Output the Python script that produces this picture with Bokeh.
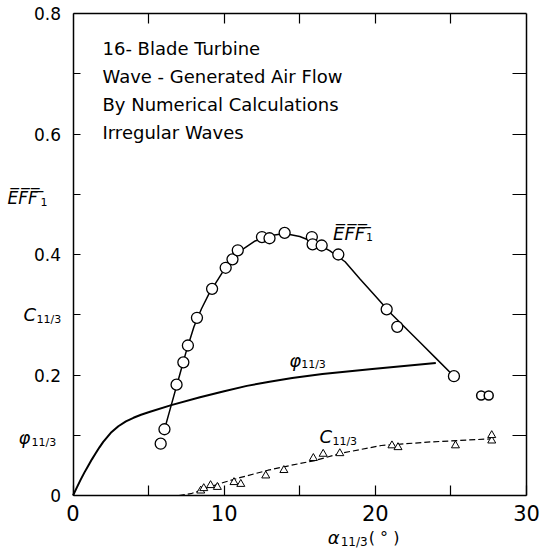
from bokeh.plotting import figure
from bokeh.models import Range1d, LinearAxis, FixedTicker, Label
from bokeh.embed import file_html
from bokeh.resources import INLINE

# ---------------- data ----------------
# EFF_1 measured points (circles)
eff_x = [5.8, 6.05, 6.85, 7.3, 7.6, 8.2, 9.2, 10.1, 10.55, 10.9, 12.5, 13.0, 14.0,
         15.8, 15.85, 16.45, 17.55, 20.75, 21.45, 25.2]
eff_y = [0.086, 0.110, 0.184, 0.221, 0.249, 0.295, 0.343, 0.378, 0.392, 0.407, 0.429,
         0.427, 0.436, 0.429, 0.417, 0.415, 0.400, 0.309, 0.280, 0.198]
# two isolated small circles at right
eff_extra_x = [27.0, 27.5]
eff_extra_y = [0.166, 0.166]
# EFF_1 faired curve
eff_curve_x = [6.0, 6.5, 7.0, 7.5, 8.0, 8.5, 9.0, 9.5, 10.0, 10.5, 11.0, 12.0, 13.0,
               14.0, 15.0, 16.0, 17.0, 18.0, 19.0, 20.0, 21.0, 22.0, 23.0, 24.0, 25.2]
eff_curve_y = [0.105, 0.15, 0.195, 0.24, 0.28, 0.31, 0.335, 0.355, 0.375, 0.392, 0.405,
               0.422, 0.431, 0.435, 0.430, 0.420, 0.406, 0.388, 0.359, 0.331, 0.303,
               0.278, 0.253, 0.228, 0.198]
# phi_1/3 curve
phi_x = [0, 0.25, 0.5, 0.75, 1.0, 1.25, 1.5, 1.75, 2.0, 2.5, 3.0, 3.5, 4.0, 4.5, 5.1,
         6.5, 8.4, 10.0, 11.5, 13.0, 14.5, 16.5, 19.8, 24.0]
phi_y = [0, 0.013, 0.026, 0.038, 0.049, 0.060, 0.070, 0.080, 0.089, 0.104, 0.115,
         0.123, 0.129, 0.134, 0.139, 0.150, 0.163, 0.173, 0.182, 0.189, 0.195, 0.2015,
         0.210, 0.220]
# C_1/3 dashed curve
c_x = [7.0, 7.8, 8.9, 10.0, 11.1, 12.9, 14.4, 16.0, 17.7, 20.4, 23.7, 27.6]
c_y = [0.0, 0.003, 0.013, 0.022, 0.030, 0.042, 0.050, 0.058, 0.070, 0.083, 0.089, 0.094]
# C_1/3 points (triangles)
tri_x = [8.45, 8.65, 9.1, 9.55, 10.65, 11.1, 12.75, 13.95, 15.9, 16.55, 17.65, 21.1,
         21.5, 25.3, 27.7, 27.7]
tri_y = [0.008, 0.012, 0.017, 0.014, 0.022, 0.019, 0.033, 0.042, 0.062, 0.069, 0.070,
         0.083, 0.080, 0.083, 0.091, 0.100]

x_ticks = [0, 5, 10, 15, 20, 25, 30]
x_tick_labels = {0: "0", 5: "", 10: "10", 15: "", 20: "20", 25: "", 30: "30"}
y_ticks = [0, 0.1, 0.2, 0.3, 0.4, 0.5, 0.6, 0.7, 0.8]
y_tick_labels = {0: "0", 0.1: "", 0.2: "0.2", 0.3: "", 0.4: "0.4", 0.5: "",
                 0.6: "0.6", 0.7: "", 0.8: "0.8"}
note_lines = ["16- Blade Turbine", "Wave - Generated Air Flow",
              "By Numerical Calculations", "Irregular Waves"]

FONT = "DejaVu Sans"
X0, X1 = 0, 30
Y0, Y1 = 0, 0.8

# the frame is padded on every side so that the axis texts sit inside it;
# the four axes are pinned at x=0, x=30, y=0 and y=0.8
p = figure(width=542, height=556, output_backend="svg", toolbar_location=None,
           x_range=Range1d(-4.664, 30.926), y_range=Range1d(-0.0979, 0.8183),
           min_border_left=2, min_border_right=2, min_border_top=2,
           min_border_bottom=2, x_axis_location=None, y_axis_location=None)
p.grid.visible = False
p.outline_line_color = None
p.background_fill_color = "white"
p.border_fill_color = "white"

common = dict(major_tick_out=0, minor_tick_line_color=None, axis_line_width=1.5,
              major_tick_line_width=1.2, axis_line_color="black",
              major_tick_line_color="black")

# bottom axis at y=0
xb = LinearAxis(ticker=FixedTicker(ticks=x_ticks), major_label_overrides=x_tick_labels,
                major_tick_in=10, fixed_location=Y0, bounds=(X0, X1),
                major_label_text_font=FONT, major_label_text_font_size="21px",
                major_label_standoff=9, major_label_text_color="black", **common)
p.add_layout(xb, "below")
# top axis (ticks only) at y=0.8
xt = LinearAxis(ticker=FixedTicker(ticks=x_ticks[1:-1]), major_tick_in=10,
                fixed_location=Y1, bounds=(X0, X1), major_label_text_font_size="1px",
                major_label_text_alpha=0, major_label_standoff=0, **common)
p.add_layout(xt, "above")
# left axis at x=0
yl = LinearAxis(ticker=FixedTicker(ticks=y_ticks), major_label_overrides=y_tick_labels,
                major_tick_in=7, fixed_location=X0, bounds=(Y0, Y1),
                major_label_text_font=FONT, major_label_text_font_size="17px",
                major_label_standoff=12, major_label_text_color="black", **common)
p.add_layout(yl, "left")
# right axis (ticks only) at x=30
yr = LinearAxis(ticker=FixedTicker(ticks=y_ticks[1:-1]), major_tick_in=14,
                fixed_location=X1, bounds=(Y0, Y1), major_label_text_font_size="1px",
                major_label_text_alpha=0, major_label_standoff=0, **common)
p.add_layout(yr, "right")

# curves
p.line(eff_curve_x, eff_curve_y, line_color="black", line_width=1.5)
p.line(phi_x, phi_y, line_color="black", line_width=2)
p.line(c_x, c_y, line_color="black", line_width=1.2, line_dash="6 3")
p.scatter(tri_x, tri_y, marker="triangle", size=8, fill_color="white",
          line_color="black", line_width=1)
p.scatter(eff_x, eff_y, marker="circle", size=11, fill_color="white",
          line_color="black", line_width=1.3)
p.scatter(eff_extra_x, eff_extra_y, marker="circle", size=9, fill_color="white",
          line_color="black", line_width=1.5)

# note text
for i, t in enumerate(note_lines):
    p.add_layout(Label(x=1.95, y=0.742 - i * 0.0467, text=t, text_font=FONT,
                       text_font_size="18px", text_baseline="middle", text_align="left",
                       text_color="black"))


def sub_label(x, y, main, sub, main_size="17px", sub_size="11px", sub_dx=13, sub_dy=-5):
    p.add_layout(Label(x=x, y=y, text=main, text_font=FONT, text_font_style="italic",
                       text_font_size=main_size, text_baseline="middle",
                       text_align="left", text_color="black"))
    p.add_layout(Label(x=x, y=y, x_offset=sub_dx, y_offset=sub_dy, text=sub,
                       text_font=FONT, text_font_size=sub_size, text_baseline="middle",
                       text_align="left", text_color="black"))


OV = "\u0305"
eff_text = "E" + OV + "F" + OV + "F" + OV + " " + OV

# in-plot labels
sub_label(17.2, 0.435, eff_text, "1", main_size="18px", sub_dx=33, sub_dy=-4)
sub_label(14.3, 0.224, "\u03c6", "11/3", main_size="18px", sub_dx=12, sub_dy=-4)
sub_label(16.3, 0.098, "C", "11/3", main_size="18px", sub_dx=13, sub_dy=-5)
# left-side axis names
sub_label(-4.33, 0.493, eff_text, "1", main_size="17px", sub_dx=33, sub_dy=-4)
sub_label(-3.27, 0.3, "C", "11/3", main_size="18px", sub_dx=13, sub_dy=-5)
sub_label(-3.6, 0.096, "\u03c6", "11/3", main_size="18px", sub_dx=13, sub_dy=-5)
# x-axis name
p.add_layout(Label(x=16.85, y=-0.07, text="\u03b1", text_font=FONT,
                   text_font_style="italic", text_font_size="18px",
                   text_baseline="middle", text_align="left", text_color="black"))
p.add_layout(Label(x=16.85, y=-0.07, x_offset=13, y_offset=-4, text="11/3",
                   text_font=FONT, text_font_size="12px", text_baseline="middle",
                   text_align="left", text_color="black"))
p.add_layout(Label(x=16.85, y=-0.07, x_offset=41, y_offset=0, text="( ° )",
                   text_font=FONT, text_font_size="16px", text_baseline="middle",
                   text_align="left", text_color="black"))

open("out.html", "w").write(file_html(p, INLINE))
